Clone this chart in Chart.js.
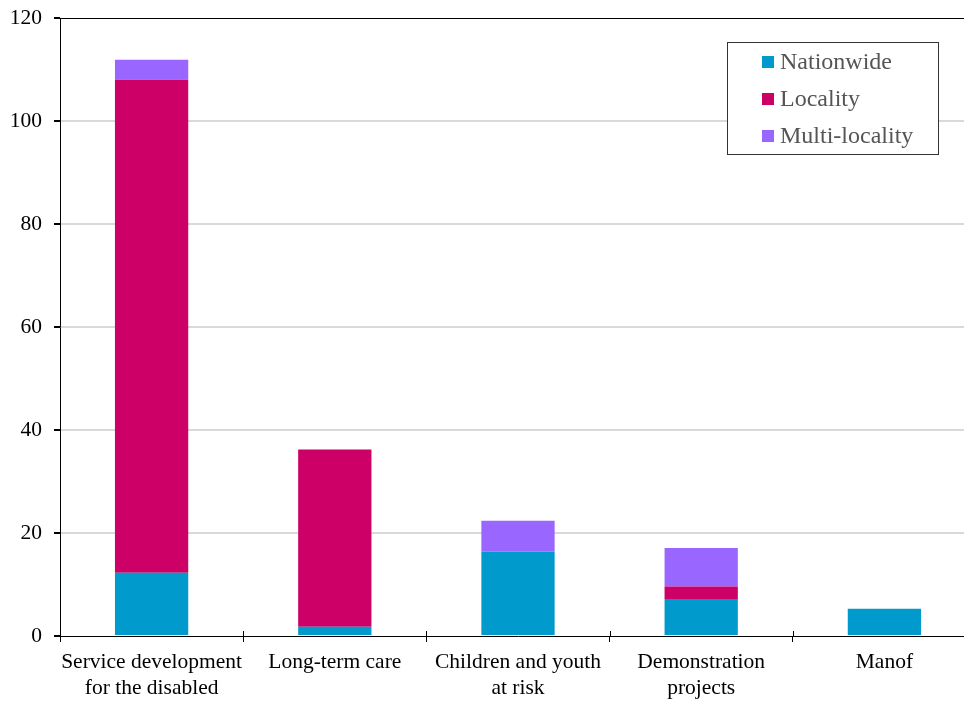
<!DOCTYPE html>
<html>
<head>
<meta charset="utf-8">
<script src="https://cdn.jsdelivr.net/npm/chart.js@4/dist/chart.umd.min.js"></script>
<style>
  html, body { margin: 0; padding: 0; background: #fff; overflow: hidden; }
  #wrap { width: 990px; height: 702px; }
</style>
</head>
<body>
<div id="wrap"><canvas id="c" width="990" height="702"></canvas></div>
<script>
// Programme areas (multi-line category labels)
const categories = [
  ["Service development", "for the disabled"],
  "Long-term care",
  ["Children and youth", "at risk"],
  ["Demonstration", "projects"],
  "Manof"
];

// Stacked series values
const nationwide    = [12.3, 1.8, 16.4, 7.2, 5.3];
const locality      = [95.7, 34.4, 0, 2.4, 0];
const multiLocality = [3.9, 0, 6.0, 7.5, 0];

const seriesNames  = ["Nationwide", "Locality", "Multi-locality"];
const seriesColors = ["#009BCC", "#CC0066", "#9966FF"];

const yTicks = [0, 20, 40, 60, 80, 100, 120];

const serif = "'Liberation Serif', 'Times New Roman', serif";

// Frame top edge, tick marks crossing the category axis, and the boxed legend
const decorations = {
  id: 'decorations',
  afterDraw(chart) {
    const ctx = chart.ctx;
    const a = chart.chartArea;
    const x = chart.scales.x;
    ctx.save();
    ctx.strokeStyle = '#000';
    ctx.lineWidth = 1;
    // top frame line
    ctx.beginPath();
    ctx.moveTo(a.left, Math.round(a.top) + 0.5);
    ctx.lineTo(a.right, Math.round(a.top) + 0.5);
    ctx.stroke();
    // boundary tick marks reaching slightly above the axis
    const n = x.ticks.length;
    for (let i = 1; i < n; i++) {
      const px = Math.round((x.getPixelForTick(i - 1) + x.getPixelForTick(i)) / 2) + 0.5;
      ctx.beginPath();
      ctx.moveTo(px, a.bottom - 5);
      ctx.lineTo(px, a.bottom);
      ctx.stroke();
    }
    // legend box
    const bx = 727.5, by = 42.5, bw = 211, bh = 112;
    ctx.fillStyle = '#fff';
    ctx.fillRect(bx, by, bw, bh);
    ctx.strokeStyle = '#333';
    ctx.strokeRect(bx, by, bw, bh);
    ctx.font = "24px " + serif;
    ctx.textBaseline = 'middle';
    ctx.textAlign = 'left';
    chart.data.datasets.forEach((ds, i) => {
      const cy = 62 + i * 37;
      ctx.fillStyle = ds.backgroundColor;
      ctx.fillRect(762, cy - 6, 12, 12);
      ctx.fillStyle = '#555';
      ctx.fillText(ds.label, 780, cy + 1);
    });
    ctx.restore();
  }
};

new Chart(document.getElementById('c'), {
  type: 'bar',
  data: {
    labels: categories,
    datasets: [
      { label: seriesNames[0], data: nationwide,    backgroundColor: seriesColors[0] },
      { label: seriesNames[1], data: locality,      backgroundColor: seriesColors[1] },
      { label: seriesNames[2], data: multiLocality, backgroundColor: seriesColors[2] }
    ]
  },
  options: {
    responsive: false,
    animation: false,
    devicePixelRatio: 1,
    layout: { padding: { top: 18, right: 14, left: 0, bottom: 0 } },
    datasets: { bar: { barPercentage: 0.4, categoryPercentage: 1.0, borderWidth: 0 } },
    plugins: { legend: { display: false }, tooltip: { enabled: false } },
    scales: {
      x: {
        stacked: true,
        afterFit(scale) { scale.height = 66; scale.paddingLeft = 0; scale.paddingRight = 0; },
        grid: { display: true, offset: true, drawOnChartArea: false, drawTicks: true, tickLength: 6, color: '#000', tickColor: '#000' },
        border: { display: true, color: '#000', width: 1 },
        ticks: { color: '#000', font: { family: serif, size: 21.5, lineHeight: 1.22 }, padding: 7, maxRotation: 0, autoSkip: false }
      },
      y: {
        stacked: true,
        min: 0,
        max: 120,
        afterFit(scale) { scale.width = 60; scale.paddingTop = 0; scale.paddingBottom = 0; },
        afterBuildTicks(scale) { scale.ticks = yTicks.map(v => ({ value: v })); },
        grid: {
          drawTicks: true,
          tickLength: 6,
          tickColor: '#000',
          color: ctx => (ctx.tick && (ctx.tick.value === 0 || ctx.tick.value === 120)) ? 'rgba(0,0,0,0)' : '#d9d9d9',
          lineWidth: 2
        },
        border: { display: true, color: '#000', width: 1 },
        ticks: { color: '#000', font: { family: serif, size: 21.5 }, padding: 12 }
      }
    }
  },
  plugins: [decorations]
});
</script>
</body>
</html>
